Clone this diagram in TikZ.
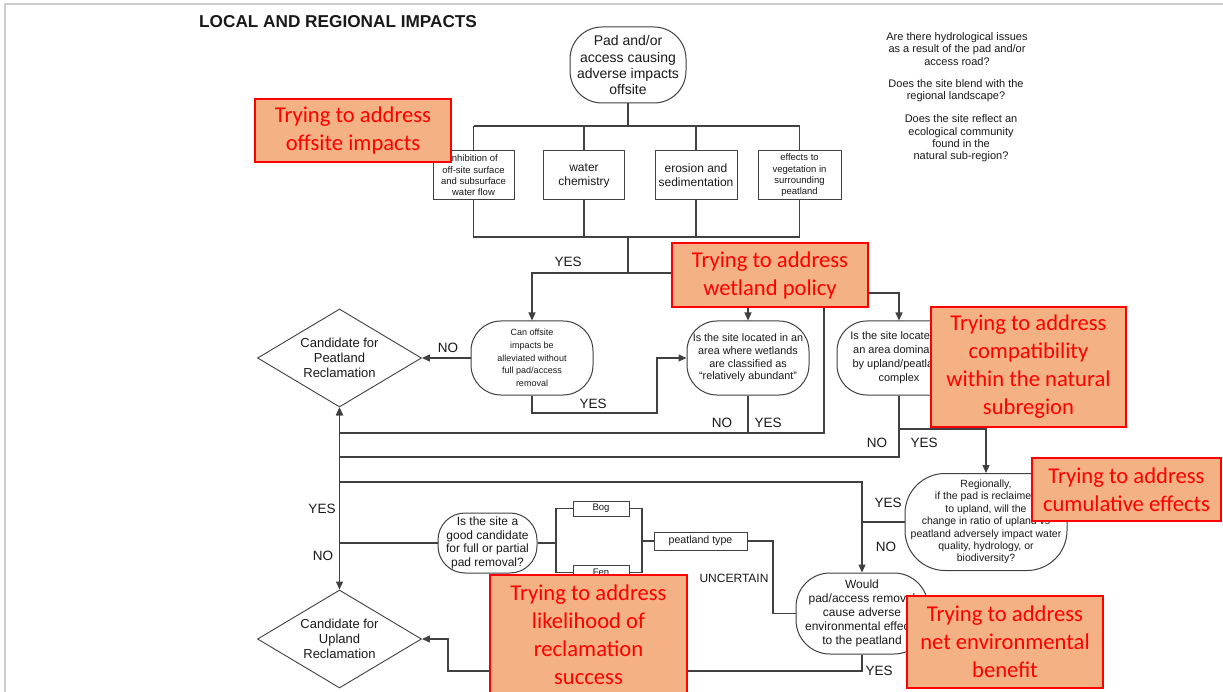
\documentclass[tikz,border=0pt]{standalone}
\usepackage{fontspec}
\setmainfont{Liberation Sans}
\newfontfamily\calib{Carlito}
\usetikzlibrary{arrows.meta,shapes.geometric}
\definecolor{ln}{RGB}{64,64,64}
\definecolor{orfill}{RGB}{244,177,131}
\definecolor{orred}{RGB}{255,0,0}
\definecolor{framecol}{RGB}{205,205,205}
\definecolor{txt}{RGB}{25,25,25}
\tikzset{
  term/.style={draw=ln, line width=1pt, fill=white, rounded corners=#1, inner sep=0pt, align=center, text=txt},
  rbox/.style={draw=ln, line width=1pt, fill=white, inner sep=0pt, align=center, text=txt},
  dia/.style={draw=ln, line width=0.9pt, fill=white, diamond, aspect=1.67, inner sep=0pt, minimum width=164pt, minimum height=98pt, align=center, text=txt, font=\fontsize{13}{15}\selectfont},
  conn/.style={draw=ln, line width=1.2pt},
  arr/.style={conn, -{Triangle[length=8pt,width=7pt]}},
  lab/.style={font=\fontsize{13.5}{16}\selectfont, inner sep=0pt, text=txt},
  obox/.style={draw=orred, line width=1.2pt, fill=orfill, text=orred, font=\calib\fontsize{22.6}{28}\selectfont, align=center, inner sep=0pt},
  note/.style={font=\fontsize{11}{12.4}\selectfont, align=center, inner sep=0pt, text=txt}
}
\begin{document}
\begin{tikzpicture}[x=1pt,y=-1pt]
\useasboundingbox (0,0) rectangle (1223,692);
\fill[white] (0,0) rectangle (1223,692);
\draw[framecol, line width=2pt] (5,692) -- (5,4) -- (1223,4);

\node[font=\bfseries\fontsize{17.2}{20}\selectfont, anchor=west, inner sep=0pt, text=txt] (title) at (199,22) {LOCAL AND REGIONAL IMPACTS};

% notes
\node[note] (n1) at (957,49) {Are there hydrological issues\\as a result of the pad and/or\\access road?};
\node[note] (n2) at (956,90.5) {Does the site blend with the\\regional landscape?};
\node[note] (n3) at (961,138.5) {Does the site reflect an\\ecological community\\found in the\\natural sub-region?};

% nodes
\node[term=32pt, minimum width=116pt, minimum height=76pt, font=\fontsize{14}{16}\selectfont] (top) at (628,65) {Pad and/or\\access causing\\adverse impacts\\offsite};

\node[rbox, minimum width=81pt, minimum height=49pt, font=\fontsize{9.5}{11.3}\selectfont] (b1) at (473.5,175.5) {Inhibition of\\off-site surface\\and subsurface\\water flow};
\node[rbox, minimum width=81pt, minimum height=49pt, font=\fontsize{12}{14}\selectfont] (b2) at (584,175.5) {water\\chemistry};
\node[rbox, minimum width=82pt, minimum height=49pt, font=\fontsize{12}{14}\selectfont] (b3) at (696,175.5) {erosion and\\sedimentation};
\node[rbox, minimum width=83pt, minimum height=49pt, font=\fontsize{9.5}{11.3}\selectfont] (b4) at (799.5,175.5) {effects to\\vegetation in\\surrounding\\peatland};

\node[term=30pt, minimum width=122pt, minimum height=74pt, font=\fontsize{9}{12.7}\selectfont] (canoff) at (532,358) {Can offsite\\impacts be\\alleviated without\\full pad/access\\removal};
\node[term=30pt, minimum width=122pt, minimum height=74pt, font=\fontsize{10.8}{12.7}\selectfont] (wet) at (748,358) {Is the site located in an\\area where wetlands\\are classified as\\``relatively abundant''};
\node[term=30pt, minimum width=124pt, minimum height=74pt, font=\fontsize{11}{14}\selectfont] (up) at (899,358) {Is the site located in\\an area dominated\\by upland/peatland\\complex};

\node[dia] (cpeat) at (339.5,358) {Candidate for\\Peatland\\Reclamation};
\node[dia] (cup) at (339.5,639) {Candidate for\\Upland\\Reclamation};

\node[term=40pt, minimum width=162pt, minimum height=97pt, font=\fontsize{10.5}{12.4}\selectfont] (reg) at (986,522) {Regionally,\\if the pad is reclaimed\\to upland, will the\\change in ratio of upland vs\\peatland adversely impact water\\quality, hydrology, or\\biodiversity?};

\node[term=27pt, minimum width=99pt, minimum height=60pt, font=\fontsize{12}{13.6}\selectfont] (gc) at (487.5,543) {Is the site a\\good candidate\\for full or partial\\pad removal?};

\node[rbox, minimum width=56pt, minimum height=15pt, font=\fontsize{9.5}{10}\selectfont] (bog) at (601,508.5) {Bog};
\node[rbox, minimum width=56pt, minimum height=15pt, font=\fontsize{9.5}{10}\selectfont] (fen) at (601,572.5) {Fen};
\node[rbox, minimum width=93pt, minimum height=18pt, font=\fontsize{10.6}{12}\selectfont] (pt) at (700.5,541) {peatland type};

\node[term=34pt, minimum width=132pt, minimum height=81pt, font=\fontsize{12}{14}\selectfont] (would) at (862,613.5) {Would\\pad/access removal\\cause adverse\\environmental effects\\to the peatland};

% coordinates
\coordinate (bus1L) at (473.5,126);
\coordinate (bus1R) at (799.5,126);
\coordinate (bus2) at (628,237);
\coordinate (j1) at (628,273);
\coordinate (c1) at (657,413);
\coordinate (w1) at (748,433);
\coordinate (w2) at (824,433);
\coordinate (w3) at (824,293);
\coordinate (u1) at (899,457);
\coordinate (u2) at (899,429);
\coordinate (r1) at (862,522);
\coordinate (r2) at (862,482);
\coordinate (m543) at (339.5,543);
\coordinate (f1) at (556,543);
\coordinate (f2) at (642,541);
\coordinate (f3) at (773,580);
\coordinate (y1) at (448,671);

% connectors
\draw[conn] (top.south) -- (top.south |- bus1L);
\draw[conn] (bus1L) -- (bus1R);
\draw[conn] (b1.north) -- (bus1L);
\draw[conn] (b2.north) -- (b2.north |- bus1L);
\draw[conn] (b3.north) -- (b3.north |- bus1L);
\draw[conn] (b4.north) -- (bus1R);
\draw[conn] (b1.south) |- (b4.south |- bus2) -- (b4.south);
\draw[conn] (b2.south) -- (b2.south |- bus2);
\draw[conn] (b3.south) -- (b3.south |- bus2);
\draw[conn] (bus2) -- (j1);
\draw[arr] (j1) -| (canoff.north);
\draw[arr] (j1) -| (wet.north);

\draw[arr] (canoff.west) -- (cpeat.east);
\draw[arr] (canoff.south) |- (c1) |- (wet.west);

\draw[arr] (wet.south) -- (w1) -| (cpeat.south);
\draw[arr] (w1) -- (w2) -- (w3) -| (up.north);

\draw[conn] (up.south) -- (u1) -- (u1 -| cpeat.south);
\draw[arr] (u2) -| (reg.north);

\draw[conn] (reg.west) -- (r1) -- (r2) -- (r2 -| cpeat.south);
\draw[arr] (r1) -- (would.north);

\draw[conn] (gc.west) -- (m543);
\draw[arr] (m543) -- (cpeat.south);
\draw[arr] (m543) -- (cup.north);

\draw[conn] (gc.east) -- (f1);
\draw[conn] (bog.west) -| (f1) |- (fen.west);
\draw[conn] (bog.east) -| (f2) |- (fen.east);
\draw[conn] (f2) -- (pt.west);
\draw[conn] (pt.east) -| (f3) |- (would.west);

\draw[arr] (would.south) |- (y1) |- (cup.east);

% labels
\node[lab] (l1) at (568,262) {YES};
\node[lab] (l2) at (448,348) {NO};
\node[lab] (l3) at (593,404) {YES};
\node[lab] (l4) at (722,423) {NO};
\node[lab] (l5) at (768,423) {YES};
\node[lab] (l6) at (877,443) {NO};
\node[lab] (l7) at (924,443) {YES};
\node[lab] (l8) at (888,503) {YES};
\node[lab] (l9) at (886,547) {NO};
\node[lab] (l10) at (322,509) {YES};
\node[lab] (l11) at (323,556) {NO};
\node[lab, font=\fontsize{12}{14}\selectfont] (l12) at (734,578) {UNCERTAIN};
\node[lab] (l13) at (879,671) {YES};

% orange call-outs
\node[obox, minimum width=196pt, minimum height=63pt] (o1) at (353,130.5) {Trying to address\\offsite impacts};
\node[obox, minimum width=196pt, minimum height=64pt] (o2) at (770,275) {Trying to address\\wetland policy};
\node[obox, minimum width=195pt, minimum height=120pt] (o3) at (1028.5,367) {Trying to address\\compatibility\\within the natural\\subregion};
\node[obox, minimum width=189pt, minimum height=63pt] (o4) at (1126.5,489.5) {Trying to address\\cumulative effects};
\node[obox, minimum width=196pt, minimum height=92pt] (o5) at (1005,642) {Trying to address\\net environmental\\benefit};
\node[obox, minimum width=197pt, minimum height=120pt] (o6) at (588.5,635) {Trying to address\\likelihood of\\reclamation\\success};
\end{tikzpicture}
\end{document}
